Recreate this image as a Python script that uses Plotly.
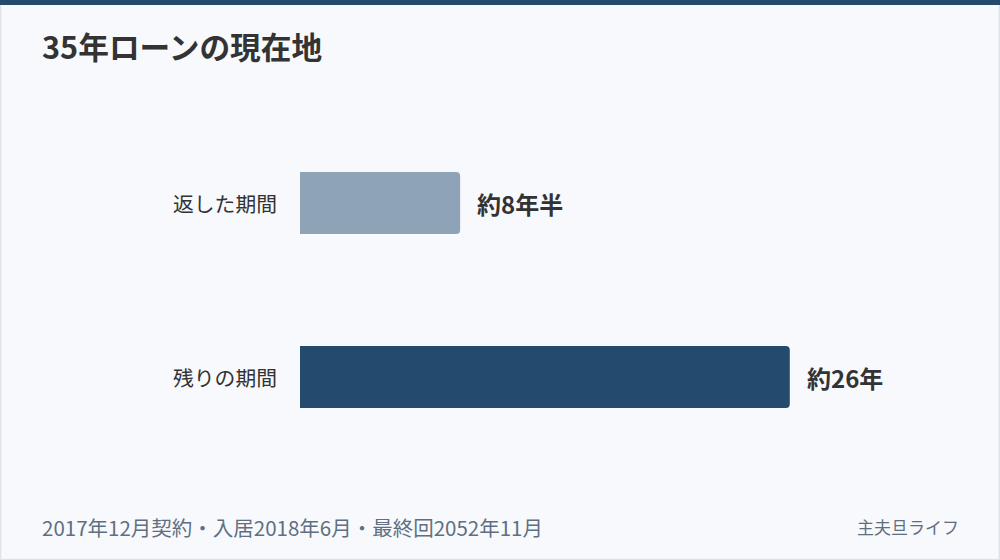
from plotly import graph_objects as go

# 35年ローン: 返済済み / 残り (年)
periods = ['返した期間', '残りの期間']
years = [8.5, 26]
value_labels = ['約8年半', '約26年']
bar_colors = ['#8fa3b8', '#244a6e']

title_text = '35年ローンの現在地'
footnote = '2017年12月契約・入居2018年6月・最終回2052年11月'
credit = '主夫旦ライフ'

font_family = 'Noto Sans CJK JP, Noto Sans, sans-serif'
bg = '#f7f9fc'

fig = go.Figure()
fig.add_trace(go.Bar(
	x=years,
	y=periods,
	orientation='h',
	width=0.356,
	marker=dict(color=bar_colors, cornerradius=4, line=dict(width=0)),
	hoverinfo='skip',
))

# category labels left of the bars
for p in periods:
	fig.add_annotation(x=0, y=p, xref='paper', yref='y', text=p, showarrow=False,
		xanchor='right', xshift=-21, font=dict(size=20.8, color='#333333', family=font_family))

# values right of the bars
for p, v, lab in zip(periods, years, value_labels):
	fig.add_annotation(x=v, y=p, xref='x', yref='y', text='<b>%s</b>' % lab, showarrow=False,
		xanchor='left', xshift=15, font=dict(size=24, color='#333333', family=font_family))

# header / footer
fig.add_annotation(x=-0.4333, y=1.203, xref='paper', yref='paper', text='<b>%s</b>' % title_text,
	showarrow=False, xanchor='left', yanchor='middle', font=dict(size=30.7, color='#333333', family=font_family))
fig.add_annotation(x=-0.4333, y=-0.18, xref='paper', yref='paper', text=footnote,
	showarrow=False, xanchor='left', yanchor='middle', font=dict(size=20.5, color='#5f6f82', family=font_family))
fig.add_annotation(x=1.102, y=-0.18, xref='paper', yref='paper', text=credit,
	showarrow=False, xanchor='right', yanchor='middle', font=dict(size=17, color='#5f6f82', family=font_family))

# frame border and top stripe
fig.add_shape(type='rect', xref='paper', yref='paper', x0=-0.4992, x1=1.1658, y0=-0.2744, y1=1.3319,
	line=dict(color='#dde3ea', width=1.5), fillcolor='rgba(0,0,0,0)', layer='below')
fig.add_shape(type='rect', xref='paper', yref='paper', x0=-0.5, x1=1.1667, y0=1.319, y1=1.3334,
	line=dict(width=0), fillcolor='#244a6e')

fig.update_layout(
	width=1000, height=560,
	margin=dict(l=300, r=100, t=116, b=96),
	paper_bgcolor=bg, plot_bgcolor=bg,
	showlegend=False,
	xaxis=dict(range=[0, 31.85], visible=False, fixedrange=True),
	yaxis=dict(range=[1.5, -0.5], visible=False, fixedrange=True),
	font=dict(family=font_family),
)

# page has a default 8px body margin; drop it so the figure fills the window
fig.write_html('out.html', config={'displayModeBar': False},
	post_script="document.body.style.margin='0';")
